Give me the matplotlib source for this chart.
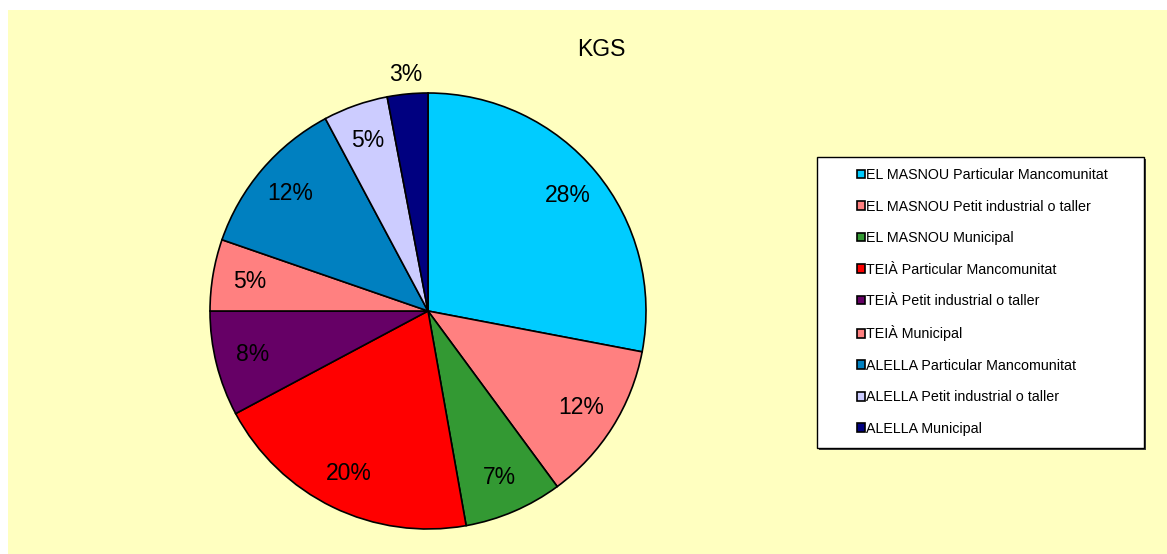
import matplotlib.pyplot as plt
from matplotlib.patches import Patch, Rectangle

plt.rcParams['font.family'] = ['Liberation Sans', 'DejaVu Sans']

# datos (porcentaje de kg por tipo)
etiquetas = ['EL MASNOU Particular Mancomunitat',
             'EL MASNOU Petit industrial o taller',
             'EL MASNOU Municipal',
             'TEIÀ Particular Mancomunitat',
             'TEIÀ Petit industrial o taller',
             'TEIÀ Municipal',
             'ALELLA Particular Mancomunitat',
             'ALELLA Petit industrial o taller',
             'ALELLA Municipal']
valores = [28.0, 11.9, 7.3, 20.0, 7.8, 5.3, 11.9, 4.8, 3.0]
colores = ['#00CCFF', '#FF8080', '#339933', '#FF0000', '#660066',
           '#FF8080', '#0080C0', '#CCCCFF', '#000080']

W, H = 1167, 554
DPI = 100
fig = plt.figure(figsize=(W / DPI, H / DPI), dpi=DPI)
fig.patch.set_facecolor('white')

# fondo amarillo
fig.add_artist(Rectangle((8 / W, 0), 1 - 8 / W, 1 - 10 / H, transform=fig.transFigure,
                         facecolor='#FFFFC0', edgecolor='none', zorder=-10))

cx, cy, r = 428, 311, 218
ax = fig.add_axes([(cx - r) / W, (H - cy - r) / H, 2 * r / W, 2 * r / H])
wedges, textos, pcts = ax.pie(valores, colors=colores, startangle=90, counterclock=False,
                              autopct='%.0f%%', pctdistance=0.83,
                              wedgeprops=dict(edgecolor='black', linewidth=1.2),
                              textprops=dict(fontsize=16.5, color='black'))
ax.set_xlim(-1, 1)
ax.set_ylim(-1, 1)
ax.axis('off')

# la etiqueta pequeña va fuera
t = pcts[-1]
x, y = t.get_position()
t.set_position((x * 1.09 / 0.83, y * 1.09 / 0.83))

fig.text(601 / W, 1 - 49 / H, 'KGS', ha='center', va='center', fontsize=16.5)

# caja de la leyenda
fig.add_artist(Rectangle((819 / W, 1 - 450 / H), 327 / W, 291 / H, transform=fig.transFigure,
                         facecolor='#404040', edgecolor='none', zorder=1))
fig.add_artist(Rectangle((817 / W, 1 - 448 / H), 327 / W, 291 / H, transform=fig.transFigure,
                         facecolor='white', edgecolor='black', linewidth=1, zorder=2))

handles = [Patch(facecolor=c, edgecolor='black', linewidth=1.2) for c in colores]
leg = fig.legend(handles, etiquetas, loc='upper left',
                 bbox_to_anchor=(850 / W, 1 - 161 / H), frameon=False,
                 fontsize=10.3, handlelength=0.55, handleheight=0.55,
                 handletextpad=0.1, labelspacing=1.22, borderpad=0)
leg.set_zorder(3)

plt.savefig('out.png', dpi=DPI)
